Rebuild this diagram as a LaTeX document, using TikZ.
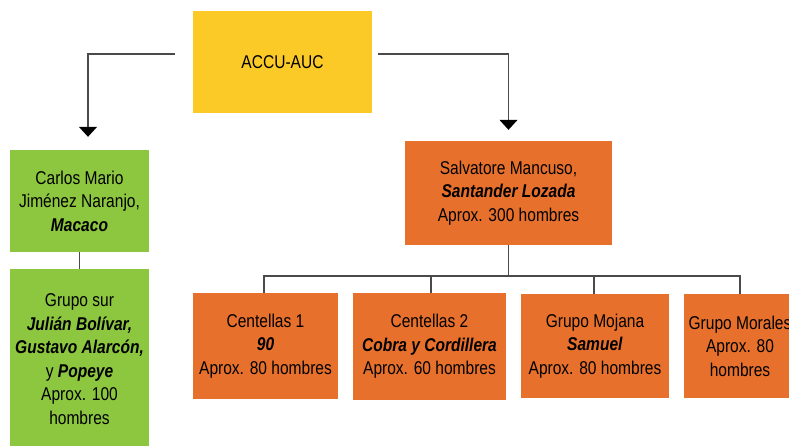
\documentclass[tikz,border=0pt]{standalone}
\usepackage{fontspec}
\setmainfont{Liberation Sans}[FakeStretch=0.84]
\usetikzlibrary{arrows.meta}
\definecolor{cyellow}{HTML}{FCCA27}
\definecolor{cgreen}{HTML}{8DC63F}
\definecolor{corange}{HTML}{E8702D}
\definecolor{cline}{HTML}{4A4A4A}
\tikzset{
  box/.style={rectangle, inner sep=0pt, align=center, text=black,
    font=\fontsize{18.5}{23.5}\selectfont},
  ybox/.style={box, fill=cyellow},
  gbox/.style={box, fill=cgreen},
  obox/.style={box, fill=corange},
  conn/.style={draw=cline, line width=1.3pt},
  arr/.style={conn, -{Triangle[width=18pt,length=10pt,color=black,fill=black]}}
}
\newcommand{\bi}[1]{\textbf{\textit{#1}}}
\begin{document}
\begin{tikzpicture}[x=1pt,y=-1pt]
\useasboundingbox (0,0) rectangle (789,445);
\clip (0,0) rectangle (789,445);
\node[ybox, minimum width=179pt, minimum height=102pt] (acc) at (282.5,62) {ACCU-AUC};
\node[gbox, minimum width=139pt, minimum height=102pt] (carlos) at (79.5,201)
  {Carlos Mario\\Jiménez Naranjo,\\\bi{Macaco}};
\node[gbox, minimum width=139pt, minimum height=180pt] (sur) at (79.5,359)
  {Grupo sur\\\bi{Julián Bolívar,}\\\bi{Gustavo Alarcón,}\\y \bi{Popeye}\\Aprox. 100\\hombres};
\node[obox, minimum width=207pt, minimum height=104pt] (salv) at (508.5,193)
  {Salvatore Mancuso,\\\bi{Santander Lozada}\\Aprox. 300 hombres};
\node[obox, minimum width=145pt, minimum height=106pt] (c1) at (265.5,346)
  {Centellas 1\\\bi{90}\\Aprox. 80 hombres};
\node[obox, minimum width=153pt, minimum height=107pt] (c2) at (429.5,346.5)
  {Centellas 2\\\bi{Cobra y Cordillera}\\Aprox. 60 hombres};
\node[obox, minimum width=148pt, minimum height=104pt] (moj) at (595,346)
  {Grupo Mojana\\\bi{Samuel}\\Aprox. 80 hombres};
\node[obox, minimum width=112pt, minimum height=104pt] (mor) at (740,346)
  {Grupo Morales\\Aprox. 80\\hombres};
% connectors
\draw[arr] ([xshift=-18pt,yshift=8pt]acc.west) -| ([xshift=8.5pt,yshift=13pt]carlos.north);
\draw[arr] ([xshift=6pt,yshift=8pt]acc.east) -| ([yshift=11pt]salv.north);
\draw[conn] (carlos.south) -- (sur.north);
\coordinate (bus) at (508.5,276);
\draw[conn] (salv.south) -- (bus);
\draw[conn] ([xshift=-1.5pt]c1.north) |- (bus) -| (mor.north);
\draw[conn] ([xshift=1.5pt]c2.north) -- ([xshift=1.5pt]c2.north |- bus);
\draw[conn] ([xshift=-1pt]moj.north) -- ([xshift=-1pt]moj.north |- bus);
\end{tikzpicture}
\end{document}
